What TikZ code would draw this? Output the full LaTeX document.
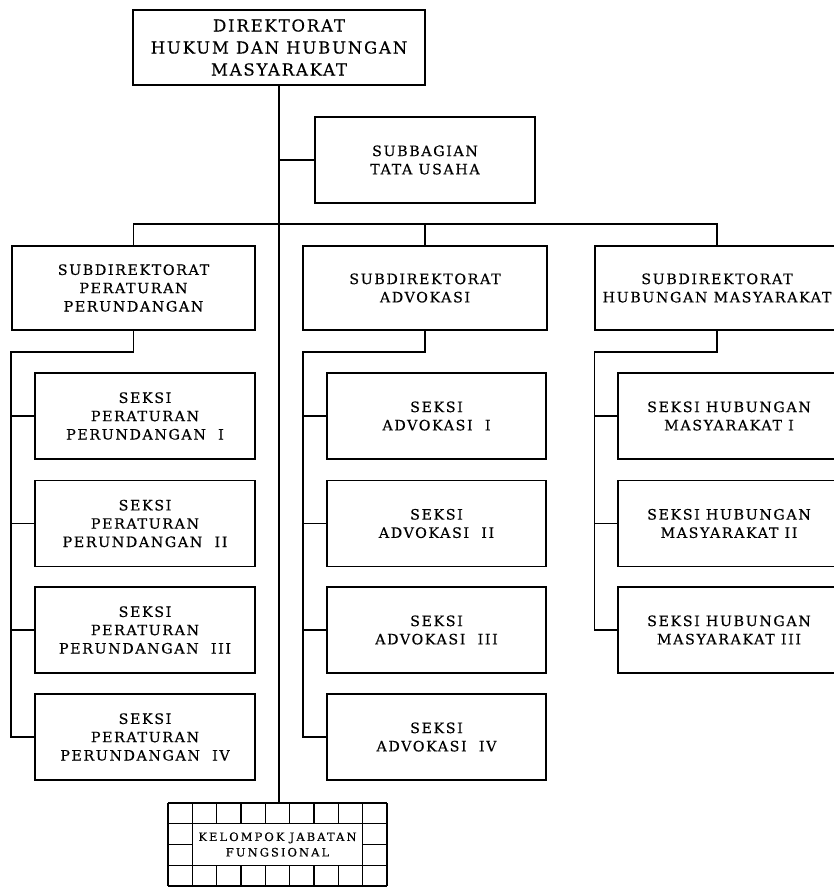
\documentclass[tikz,border=0pt]{standalone}
\usepackage{fontspec}
\setmainfont{DejaVu Serif}
\newfontfamily\boxfont{DejaVu Serif}[LetterSpace=11,FakeBold=0.4]
\newfontfamily\topfont{DejaVu Serif}[LetterSpace=11,FakeBold=0.4]
\newfontfamily\kfont{DejaVu Serif}[LetterSpace=18,FakeBold=0.4]
\begin{document}
\begin{tikzpicture}[x=1pt,y=-1pt,
  ln/.style={line width=1.2pt},
  box/.style={draw, line width=1.2pt, align=center, inner sep=0pt,
    font=\boxfont\fontsize{14.3}{18.3}\selectfont},
  topbox/.style={box, font=\topfont\fontsize{16.5}{22}\selectfont},
  kbox/.style={draw, fill=white, line width=1.2pt, align=center, inner sep=0pt,
    font=\kfont\fontsize{11.5}{15.5}\selectfont}
]
\useasboundingbox (0,0) rectangle (834,887);
\clip (0,0) rectangle (834,887);

% top
\node[topbox, minimum width=292, minimum height=75] (dir) at (279,47.5)
  {DIREKTORAT\\HUKUM DAN HUBUNGAN\\MASYARAKAT};
\node[box, minimum width=220, minimum height=86] (tu) at (425,160)
  {SUBBAGIAN\\TATA USAHA};

% subdirektorat
\node[box, minimum width=243, minimum height=84] (spp) at (133.5,288)
  {SUBDIREKTORAT\\PERATURAN\\PERUNDANGAN};
\node[box, minimum width=244, minimum height=84] (sadv) at (425,288)
  {SUBDIREKTORAT\\ADVOKASI};
\node[box, minimum width=244, minimum height=84] (shum) at (717,288)
  {SUBDIREKTORAT\\HUBUNGAN MASYARAKAT};

% seksi PP
\node[box, minimum width=220, minimum height=86] (pp1) at (145,416)
  {SEKSI\\PERATURAN\\PERUNDANGAN\ \ I};
\node[box, minimum width=220, minimum height=86] (pp2) at (145,523.5)
  {SEKSI\\PERATURAN\\PERUNDANGAN\ \ II};
\node[box, minimum width=220, minimum height=86] (pp3) at (145,630)
  {SEKSI\\PERATURAN\\PERUNDANGAN\ \ III};
\node[box, minimum width=220, minimum height=86] (pp4) at (145,737)
  {SEKSI\\PERATURAN\\PERUNDANGAN\ \ IV};

% seksi advokasi
\node[box, minimum width=219, minimum height=86] (adv1) at (436.5,416)
  {SEKSI\\ADVOKASI\ \ I};
\node[box, minimum width=219, minimum height=86] (adv2) at (436.5,523.5)
  {SEKSI\\ADVOKASI\ \ II};
\node[box, minimum width=219, minimum height=86] (adv3) at (436.5,630)
  {SEKSI\\ADVOKASI\ \ III};
\node[box, minimum width=219, minimum height=86] (adv4) at (436.5,737)
  {SEKSI\\ADVOKASI\ \ IV};

% seksi humas
\node[box, minimum width=222, minimum height=86] (hum1) at (729,416)
  {SEKSI HUBUNGAN\\MASYARAKAT I};
\node[box, minimum width=222, minimum height=86] (hum2) at (729,523.5)
  {SEKSI HUBUNGAN\\MASYARAKAT II};
\node[box, minimum width=222, minimum height=86] (hum3) at (729,630)
  {SEKSI HUBUNGAN\\MASYARAKAT III};

% kelompok jabatan fungsional grid
\foreach \i in {0,...,9}
  \draw[ln] ({168+\i*24.333},803) -- ({168+\i*24.333},886);
\foreach \j in {0,...,4}
  \draw[ln] (168,{803+\j*20.75}) -- (387,{803+\j*20.75});
\node[kbox, minimum width=170.3, minimum height=41.5] (kjf) at (277.5,844.5)
  {KELOMPOK\hspace{0.45em}JABATAN\\FUNGSIONAL};
\coordinate (gtop) at (279,803);

% connectors
\coordinate (bus) at (0,224);
\coordinate (ppl) at (11,352);
\coordinate (advl) at (303,352);
\coordinate (huml) at (594.5,352);

\draw[ln] (dir.south) -- (gtop);
\draw[ln] (dir.south |- tu.west) -- (tu.west);
\draw[ln] (spp.north) -- (spp.north |- bus) -- (shum.north |- bus) -- (shum.north);
\draw[ln] (sadv.north) -- (sadv.north |- bus);

\draw[ln] (spp.south) -- (spp.south |- ppl) -- (ppl) -- (ppl |- pp4.west) -- (pp4.west);
\foreach \n in {pp1,pp2,pp3} \draw[ln] (ppl |- \n.west) -- (\n.west);

\draw[ln] (sadv.south) -- (sadv.south |- advl) -- (advl) -- (advl |- adv4.west) -- (adv4.west);
\foreach \n in {adv1,adv2,adv3} \draw[ln] (advl |- \n.west) -- (\n.west);

\draw[ln] (shum.south) -- (shum.south |- huml) -- (huml) -- (huml |- hum3.west) -- (hum3.west);
\foreach \n in {hum1,hum2} \draw[ln] (huml |- \n.west) -- (\n.west);
\end{tikzpicture}
\end{document}
